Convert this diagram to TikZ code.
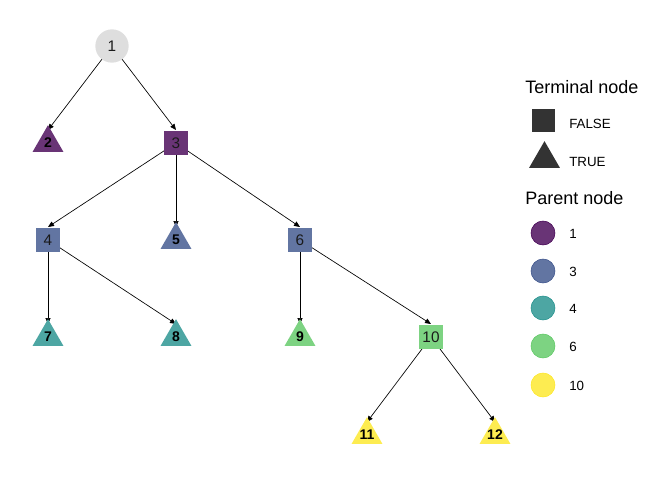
\documentclass[tikz,border=0pt]{standalone}
\usepackage{fontspec}
\setmainfont{Liberation Sans}
\usetikzlibrary{arrows.meta,shapes.geometric}
\pgfdeclarelayer{bg}
\pgfsetlayers{bg,main}
\definecolor{cgray}{RGB}{222,222,222}
\definecolor{cA}{RGB}{105,52,118}
\definecolor{cB}{RGB}{98,117,162}
\definecolor{cC}{RGB}{77,166,163}
\definecolor{cD}{RGB}{125,211,130}
\definecolor{cE}{RGB}{253,236,81}
\definecolor{cAo}{RGB}{68,1,84}
\definecolor{cBo}{RGB}{59,82,139}
\definecolor{cCo}{RGB}{33,144,140}
\definecolor{cDo}{RGB}{93,200,99}
\definecolor{cEo}{RGB}{253,231,37}
\definecolor{legdark}{RGB}{51,51,51}
\definecolor{txt}{RGB}{26,26,26}
\tikzset{
  sq/.style={draw=none,rectangle,minimum size=18pt,inner sep=0pt,fill=#1,
    font=\fontsize{11.5}{13}\selectfont,text=txt},
  tri/.style={draw=none,regular polygon,regular polygon sides=3,minimum size=26.8pt,inner sep=0pt,fill=#1},
  tlab/.style={inner sep=0pt,font=\fontsize{10.5}{12}\selectfont\bfseries,text=black},
  edge/.style={line width=0.5pt,black,-{Triangle[length=4.5pt,width=3.8pt]}},
  legcirc/.style={circle,draw=#1o,line width=0.4pt,fill=#1,minimum size=18pt,inner sep=0pt},
  legtitle/.style={anchor=base west,inner sep=0pt,font=\fontsize{13.5}{15}\selectfont,text=black},
  leglab/.style={anchor=base west,inner sep=0pt,font=\fontsize{10}{12}\selectfont,text=black},
}
\begin{document}
\begin{tikzpicture}[x=0.75pt,y=-0.75pt]
\useasboundingbox (0,0) rectangle (672,480);
% nodes
\node[circle,fill=cgray,minimum size=25pt,inner sep=0pt,font=\fontsize{11.5}{13}\selectfont,text=txt] (n1) at (112,46) {1};
\node[tri=cA] (n2) at (48,143) {};
\node[tlab] (n2l) at (n2.center) {2};
\node[sq=cA] (n3) at (176,143) {3};
\node[sq=cB] (n4) at (48,240) {4};
\node[tri=cB] (n5) at (176,240) {};
\node[tlab] (n5l) at (n5.center) {5};
\node[sq=cB] (n6) at (300,240) {6};
\node[tri=cC] (n7) at (48,337) {};
\node[tlab] (n7l) at (n7.center) {7};
\node[tri=cC] (n8) at (176,337) {};
\node[tlab] (n8l) at (n8.center) {8};
\node[tri=cD] (n9) at (300,337) {};
\node[tlab] (n9l) at (n9.center) {9};
\node[sq=cD] (n10) at (431,337) {10};
\node[tri=cE] (n11) at (367,435) {};
\node[tlab] (n11l) at (n11.center) {11};
\node[tri=cE] (n12) at (495,435) {};
\node[tlab] (n12l) at (n12.center) {12};
% edges
\begin{pgfonlayer}{bg}
\draw[edge] (n1.center) -- ([yshift=9.75pt]n2.center);
\draw[edge] (n1.center) -- ([yshift=9.75pt]n3.center);
\draw[edge] (n3.center) -- ([yshift=9.75pt]n4.center);
\draw[edge] (n3.center) -- ([yshift=9.75pt]n5.center);
\draw[edge] (n3.center) -- ([yshift=9.75pt]n6.center);
\draw[edge] (n4.center) -- ([yshift=9.75pt]n7.center);
\draw[edge] (n4.center) -- ([yshift=9.75pt]n8.center);
\draw[edge] (n6.center) -- ([yshift=9.75pt]n9.center);
\draw[edge] (n6.center) -- ([yshift=9.75pt]n10.center);
\draw[edge] (n10.center) -- ([yshift=9.75pt]n11.center);
\draw[edge] (n10.center) -- ([yshift=9.75pt]n12.center);
\end{pgfonlayer}
% legend
\node[legtitle] (lt1) at (525,93) {Terminal node};
\node[rectangle,fill=legdark,minimum size=17.25pt,inner sep=0pt] (lsq) at (543.5,120.5) {};
\node[leglab] (lfalse) at (569,128) {FALSE};
\node[regular polygon,regular polygon sides=3,fill=legdark,minimum size=26.8pt,inner sep=0pt] (ltri) at (544.5,159) {};
\node[leglab] (ltrue) at (569,166.5) {TRUE};
\node[legtitle] (lt2) at (525,204) {Parent node};
\node[legcirc=cA] (lc1) at (543,233) {};
\node[leglab] (ll1) at (569,238) {1};
\node[legcirc=cB] (lc3) at (543,271) {};
\node[leglab] (ll3) at (569,276) {3};
\node[legcirc=cC] (lc4) at (543,308) {};
\node[leglab] (ll4) at (569,313) {4};
\node[legcirc=cD] (lc6) at (543,346) {};
\node[leglab] (ll6) at (569,351) {6};
\node[legcirc=cE] (lc10) at (543,385) {};
\node[leglab] (ll10) at (569,390) {10};
\end{tikzpicture}
\end{document}
